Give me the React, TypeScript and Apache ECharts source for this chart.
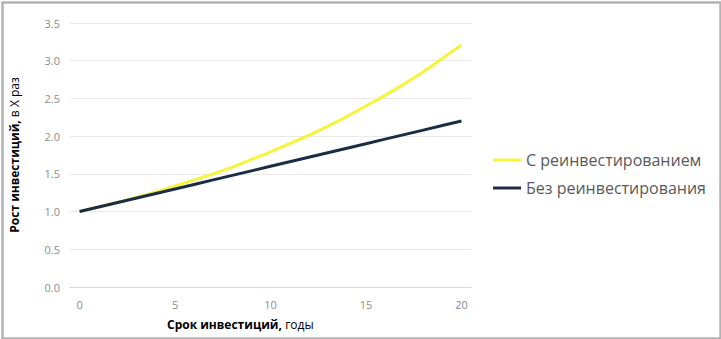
import React, { useEffect, useRef } from "react";
import * as echarts from "echarts";

const years = ["0","1","2","3","4","5","6","7","8","9","10","11","12","13","14","15","16","17","18","19","20"];
const withReinvest = [1.0, 1.06, 1.12, 1.19, 1.26, 1.34, 1.42, 1.5, 1.59, 1.69, 1.79, 1.9, 2.01, 2.13, 2.26, 2.4, 2.54, 2.69, 2.85, 3.03, 3.21];
const withoutReinvest = [1.0, 1.06, 1.12, 1.18, 1.24, 1.3, 1.36, 1.42, 1.48, 1.54, 1.6, 1.66, 1.72, 1.78, 1.84, 1.9, 1.96, 2.02, 2.08, 2.14, 2.2];
const seriesNames = ["С реинвестированием", "Без реинвестирования"];

const FONT = "'Open Sans', 'Noto Sans', sans-serif";

export default function App() {
  const ref = useRef<HTMLDivElement>(null);
  useEffect(() => {
    if (!ref.current) return;
    const chart = echarts.init(ref.current, null, { renderer: "svg" });
    chart.setOption({
      animation: false,
      backgroundColor: "#ffffff",
      grid: { left: 65, right: 250, top: 23, bottom: 52 },
      legend: {
        orient: "vertical",
        left: 493,
        top: 152,
        padding: 0,
        itemWidth: 28,
        itemHeight: 3,
        itemGap: 12,
        icon: "rect",
        textStyle: { fontFamily: FONT, fontSize: 16, color: "#595959" },
        data: seriesNames,
      },
      xAxis: {
        type: "category",
        data: years,
        boundaryGap: true,
        axisLine: { lineStyle: { color: "#d9d9d9", width: 1 } },
        axisTick: { show: false },
        axisLabel: {
          interval: 4,
          margin: 12,
          color: "#8c8c8c",
          fontFamily: FONT,
          fontSize: 11,
        },
      },
      yAxis: {
        type: "value",
        min: 0,
        max: 3.5,
        interval: 0.5,
        name: "{b|Рост инвестиций,} {n|в X раз}",
        nameLocation: "middle",
        nameGap: 50,
        nameTextStyle: {
          fontFamily: FONT,
          fontSize: 12,
          color: "#000000",
          rich: {
            b: { fontFamily: FONT, fontSize: 12, fontWeight: "bold", color: "#000000" },
            n: { fontFamily: FONT, fontSize: 12, color: "#000000" },
          },
        },
        axisLine: { show: false },
        axisTick: { show: false },
        splitLine: { lineStyle: { color: "#e8e8e8", width: 1 } },
        axisLabel: {
          margin: 10,
          color: "#8c8c8c",
          fontFamily: FONT,
          fontSize: 11,
          formatter: (v: number) => v.toFixed(1),
        },
      },
      graphic: [
        {
          type: "rect",
          left: 0,
          top: 0,
          shape: { x: 1, y: 1, width: 718, height: 336 },
          style: { fill: "none", stroke: "#b3b3b3", lineWidth: 2.5 },
          silent: true,
        },
        {
          type: "text",
          left: 167,
          top: 318,
          style: {
            text: "{b|Срок инвестиций,} {n|годы}",
            rich: {
              b: { fontFamily: FONT, fontSize: 12, fontWeight: "bold", fill: "#000000" },
              n: { fontFamily: FONT, fontSize: 12, fill: "#000000" },
            },
          },
        },
      ],
      series: [
        {
          name: seriesNames[0],
          type: "line",
          data: withReinvest,
          showSymbol: false,
          symbol: "none",
          lineStyle: { color: "#f5f53a", width: 3 },
          itemStyle: { color: "#f5f53a" },
          z: 2,
        },
        {
          name: seriesNames[1],
          type: "line",
          data: withoutReinvest,
          showSymbol: false,
          symbol: "none",
          lineStyle: { color: "#1b2d45", width: 3 },
          itemStyle: { color: "#1b2d45" },
          z: 3,
        },
      ],
    });
    return () => chart.dispose();
  }, []);
  return (
    <div
      ref={ref}
      style={{ position: "fixed", left: 0, top: 0, width: 721, height: 339 }}
    />
  );
}
